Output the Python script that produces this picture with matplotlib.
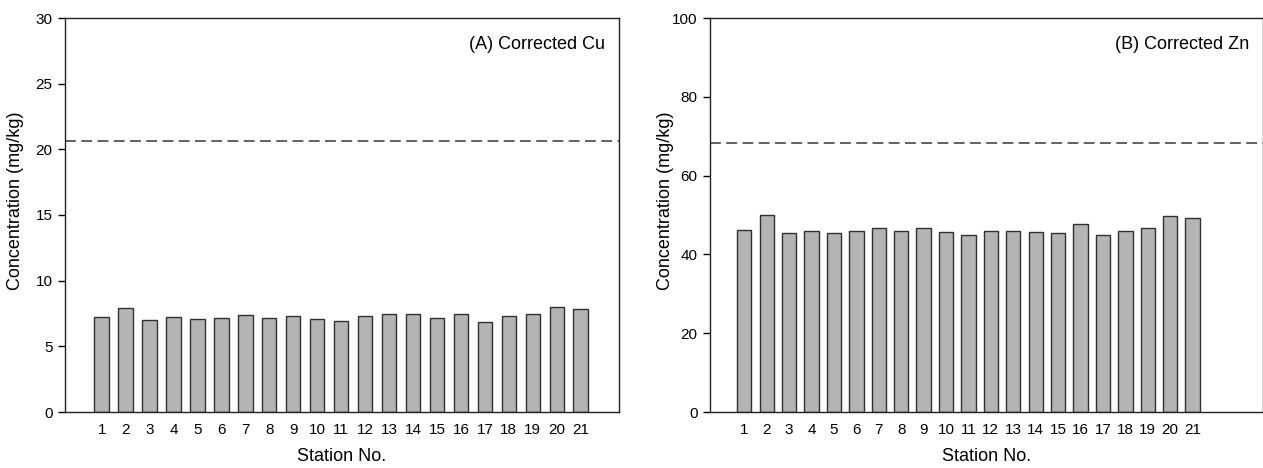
import numpy as np
import matplotlib
matplotlib.use('Agg')
import matplotlib.pyplot as plt

plt.rcParams['font.family'] = ['Liberation Sans', 'DejaVu Sans']

# station numbers
stations = np.arange(1, 22)

# corrected concentrations (mg/kg)
cu = [7.2, 7.92, 7.0, 7.24, 7.06, 7.13, 7.38, 7.13, 7.28, 7.06, 6.96,
      7.33, 7.45, 7.45, 7.16, 7.5, 6.84, 7.33, 7.5, 7.98, 7.86]
zn = [46.3, 50.0, 45.45, 46.05, 45.4, 45.97, 46.8, 45.97, 46.8, 45.8, 44.9,
      46.05, 45.97, 45.6, 45.45, 47.7, 44.9, 46.05, 46.65, 49.75, 49.3]

# background (dashed) levels
cu_ref = 20.6
zn_ref = 68.4

fig = plt.figure(figsize=(12.63, 4.68), dpi=100)
ax1 = fig.add_axes([65/1263, 56/468, 554/1263, 394/468])
ax2 = fig.add_axes([710/1263, 56/468, 553/1263, 394/468])

panels = [
    (ax1, cu, cu_ref, 30, np.arange(0, 31, 5), '(A) Corrected Cu', (-0.53, 22.6), 0.6, -0.074),
    (ax2, zn, zn_ref, 100, np.arange(0, 101, 20), '(B) Corrected Zn', (-0.53, 24.14), 0.64, -0.065),
]

for ax, vals, ref, ymax, yt, label, xl, bw, ylx in panels:
    ax.bar(stations, vals, width=bw, color='#b4b4b4', edgecolor='#303030', linewidth=1.0)
    ax.axhline(ref, color='#555555', linestyle=(0, (6, 3)), linewidth=1.3)
    ax.set_xlim(xl)
    ax.set_ylim(0, ymax)
    ax.set_yticks(yt)
    ax.set_xticks(stations)
    ax.tick_params(axis='x', length=0, pad=8, labelsize=11)
    ax.tick_params(axis='y', direction='out', length=5, width=1, labelsize=11, pad=4)
    for s in ax.spines.values():
        s.set_linewidth(1.0)
        s.set_color('#222222')
    ax.set_xlabel('Station No.', fontsize=13, labelpad=8)
    ax.set_ylabel('Concentration (mg/kg)', fontsize=13)
    ax.yaxis.set_label_coords(ylx, 0.535)
    ax.text(0.975, 0.934, label, transform=ax.transAxes, ha='right', va='center', fontsize=13)

fig.savefig('out.png', dpi=100)
